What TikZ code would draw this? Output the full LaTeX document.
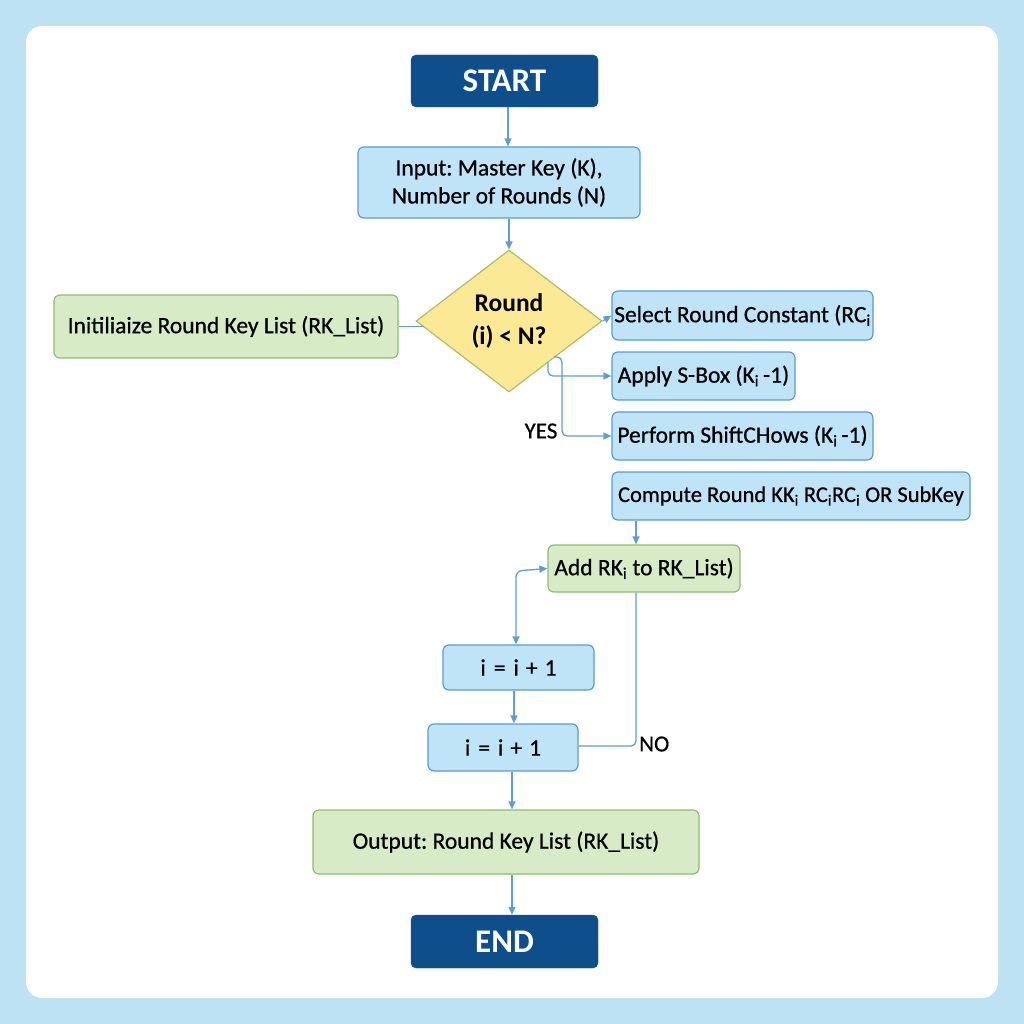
\documentclass[tikz,border=0pt]{standalone}
\usepackage{fontspec}
\setmainfont{Carlito}
\newfontfamily\medfont[FakeBold=0.6]{Carlito}
\frenchspacing
\usetikzlibrary{shapes.geometric,arrows.meta,calc}
\definecolor{bgblue}{HTML}{BDE2F4}
\definecolor{boxfill}{HTML}{BFE3F7}
\definecolor{boxline}{HTML}{5B9BD3}
\definecolor{grfill}{HTML}{D6EBC6}
\definecolor{grline}{HTML}{8FBC72}
\definecolor{dkblue}{HTML}{0D4E8B}
\definecolor{yfill}{HTML}{FBE995}
\definecolor{yline}{HTML}{A9BF6A}
\definecolor{conn}{HTML}{5E9ED0}
\tikzset{
  term/.style={draw=dkblue, fill=dkblue, rounded corners=5pt, text=white, font=\bfseries\fontsize{33}{36}\selectfont, inner sep=0pt},
  bluebox/.style={draw=boxline, fill=boxfill, line width=1.2pt, rounded corners=6pt, font=\medfont\fontsize{23.5}{28}\selectfont, inner sep=0pt, align=center},
  greenbox/.style={draw=grline, fill=grfill, line width=1.2pt, rounded corners=6pt, font=\medfont\fontsize{23.5}{28}\selectfont, inner sep=0pt, align=center},
  conn/.style={draw=conn, line width=1.3pt},
  arr/.style={conn, -{Triangle[length=8pt,width=7pt]}},
  lbl/.style={font=\medfont\fontsize{23}{24}\selectfont, inner sep=0pt}
}
\newcommand{\sbi}{\textsubscript{i}}
\newcommand{\incr}{i\hspace{8pt}=\hspace{8pt}i\hspace{7pt}+\hspace{7pt}1}
\begin{document}
\begin{tikzpicture}[x=1pt,y=-1pt]
\useasboundingbox (0,0) rectangle (1024,1024);
\fill[bgblue] (0,0) rectangle (1024,1024);
\fill[white, rounded corners=16pt] (26,26) rectangle (998,998);

\node[term, minimum width=187pt, minimum height=52pt] (start) at (504.5,81) {START};
\node[bluebox, minimum width=282pt, minimum height=71pt] (input) at (499,182.5) {Input: Master Key (K),\\Number of Rounds (N)};
\node[diamond, draw=yline, fill=yfill, line width=1.2pt, minimum width=186pt, minimum height=142pt, inner sep=0pt, align=center, font=\bfseries\fontsize{25.5}{33}\selectfont] (dia) at (509,321) {Round\\(i) < N?};
\node[greenbox, minimum width=344pt, minimum height=63pt] (init) at (226,326.5) {Initiliaize Round Key List (RK\_List)};
\node[bluebox, minimum width=261pt, minimum height=49pt] (sel) at (742.5,315.5) {Select Round Constant (RC\sbi};
\node[bluebox, minimum width=183pt, minimum height=48pt] (sbox) at (703.5,376) {Apply S-Box (K\sbi\,-1)};
\node[bluebox, minimum width=261pt, minimum height=48pt] (shift) at (742.5,436) {Perform ShiftCHows (K\sbi\,-1)};
\node[bluebox, minimum width=358pt, minimum height=48pt, font=\medfont\fontsize{22.5}{28}\selectfont] (comp) at (791,496) {Compute Round KK\sbi{} RC\sbi RC\sbi{} OR SubKey};
\node[greenbox, minimum width=192pt, minimum height=47pt] (add) at (644,568.5) {Add RK\sbi{} to RK\_List)};
\node[bluebox, minimum width=151pt, minimum height=45pt] (inc1) at (518.5,667.5) {\incr};
\node[bluebox, minimum width=150pt, minimum height=47pt] (inc2) at (503,747.5) {\incr};
\node[greenbox, minimum width=386pt, minimum height=64pt] (out) at (506,842) {Output: Round Key List (RK\_List)};
\node[term, minimum width=187pt, minimum height=53pt] (end) at (504.5,941.5) {END};

\coordinate (c1) at (548,362);
\coordinate (c2) at (554,357);
\coordinate (dl) at (424,326.5);
\node[lbl] (yes) at (541,431) {YES};
\node[lbl, anchor=west] (no) at (639,744) {NO};

\draw[arr] (508,107) -- (input.north -| 508,0);
\draw[arr] (input.south -| 509,0) -- (dia.north);
\draw[conn] (init.east) -- (dl);
\draw[arr] (dia.east) -- (sel.west);
\draw[arr, rounded corners=5pt] (c1) -- (548,376) -- (sbox.west);
\draw[arr, rounded corners=5pt] (c2) -- (562,357) -- (562,436) -- (shift.west);
\draw[arr] (comp.south -| 636,0) -- (add.north -| 636,0);
\draw[conn, {Triangle[length=8pt,width=7pt]}-{Triangle[length=8pt,width=7pt]}, rounded corners=6pt] (add.west) -- (516,571) -- (inc1.north -| 516,0);
\draw[arr] (inc1.south -| 514,0) -- (inc2.north -| 514,0);
\draw[conn, rounded corners=5pt] (add.south -| 636,0) -- (636,746) -- (inc2.east |- 0,746);
\draw[arr] (inc2.south -| 512,0) -- (out.north -| 512,0);
\draw[arr] (out.south -| 512,0) -- (end.north -| 512,0);
\end{tikzpicture}
\end{document}
